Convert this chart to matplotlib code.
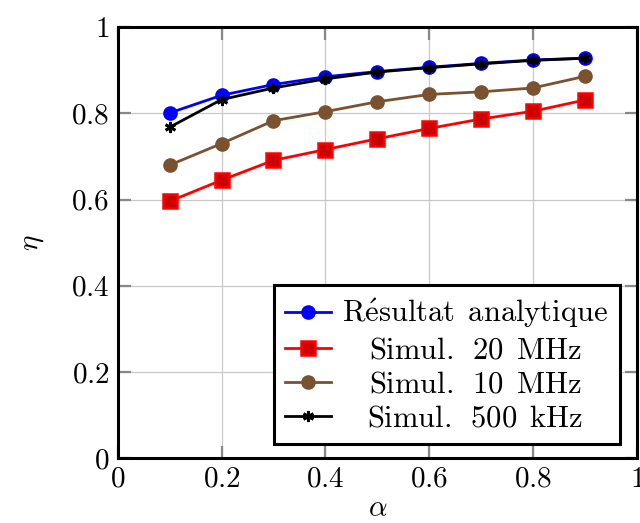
import matplotlib
matplotlib.use("Agg")
import matplotlib.pyplot as plt
from matplotlib.ticker import FuncFormatter, MultipleLocator

plt.rcParams['mathtext.fontset'] = 'cm'
plt.rcParams['font.family'] = ['cmr10', 'DejaVu Serif']
plt.rcParams['axes.unicode_minus'] = False

alpha = [0.1, 0.2, 0.3, 0.4, 0.5, 0.6, 0.7, 0.8, 0.9]
eta_analytique = [0.801, 0.842, 0.867, 0.885, 0.897, 0.907, 0.916, 0.924, 0.928]
eta_20mhz = [0.596, 0.645, 0.691, 0.716, 0.741, 0.765, 0.787, 0.805, 0.831]
eta_10mhz = [0.680, 0.730, 0.783, 0.804, 0.827, 0.844, 0.850, 0.859, 0.886]
eta_500khz = [0.768, 0.832, 0.859, 0.880, 0.896, 0.906, 0.915, 0.923, 0.928]

labels = [r'$\mathrm{R\acute{e}sultat\ \,analytique}$',
          r'$\mathrm{Simul.\ \,20\ \,MHz}$',
          r'$\mathrm{Simul.\ \,10\ \,MHz}$',
          r'$\mathrm{Simul.\ \,500\ \,kHz}$']

fig = plt.figure(figsize=(6.4, 5.23), dpi=100)
ax = fig.add_axes([0.184, 0.124, 0.811, 0.824])

lw = 2.0
ax.plot(alpha, eta_analytique, color='#0000ff', lw=lw, marker='o', ms=9.5,
        mfc='#0000ff', mec='#0000ff', label=labels[0], zorder=3)
ax.plot(alpha, eta_20mhz, color='#ff0000', lw=lw, marker='s', ms=9.5,
        mfc='#cc0000', mec='#ff0000', mew=1.8, label=labels[1], zorder=3)
ax.plot(alpha, eta_10mhz, color='#7a5230', lw=lw, marker='o', ms=9.5,
        mfc='#7a5230', mec='#7a5230', label=labels[2], zorder=3)
ax.plot(alpha, eta_500khz, color='black', lw=lw, marker=(6, 2, 0), ms=8,
        mew=2.0, label=labels[3], zorder=4)

ax.set_xlim(0, 1)
ax.set_ylim(0, 1)
ax.xaxis.set_major_locator(MultipleLocator(0.2))
ax.yaxis.set_major_locator(MultipleLocator(0.2))
fmt = FuncFormatter(lambda v, p: r'$%g$' % round(v, 2))
ax.xaxis.set_major_formatter(fmt)
ax.yaxis.set_major_formatter(fmt)
ax.tick_params(direction='in', length=9, width=1.6, color='#888888',
               top=True, right=True, labelsize=21, pad=6)
ax.grid(True, color='#c8c8c8', lw=0.9)
ax.set_axisbelow(True)
for s in ax.spines.values():
    s.set_linewidth(2.2)
    s.set_color('black')

ax.set_xlabel(r'$\alpha$', fontsize=21, labelpad=2)
ax.set_ylabel(r'$\eta$', fontsize=21, labelpad=18)

leg = ax.legend(loc='lower right', bbox_to_anchor=(0.967, 0.032), fontsize=22,
                frameon=True, fancybox=False, edgecolor='black',
                handlelength=1.5, handletextpad=0.35, borderpad=0.38,
                labelspacing=0.22, borderaxespad=0, framealpha=1)
leg.get_frame().set_linewidth(2.2)

# center the entry texts within the legend column
fig.canvas.draw()
renderer = fig.canvas.get_renderer()
texts = leg.get_texts()
widths = [t.get_window_extent(renderer).width for t in texts]
wmax = max(widths)
for t, w in zip(texts, widths):
    t.set_x((wmax - w) / 2)

fig.savefig('out.png', dpi=100)
